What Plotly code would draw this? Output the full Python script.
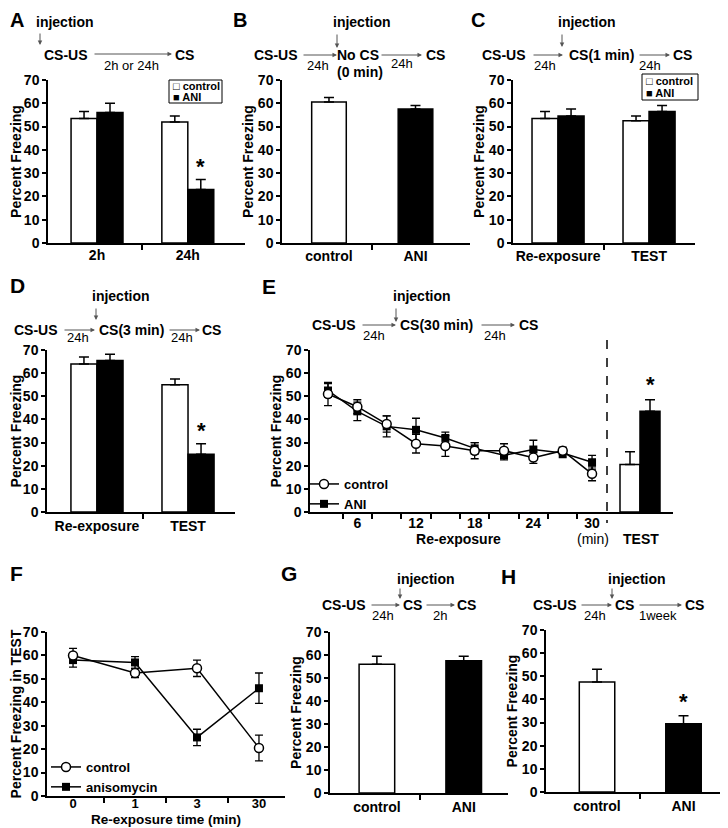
import plotly.graph_objects as go

# The page body adds an 8 px margin, so the figure is drawn 8 px in from the
# window's corner; positions below are given in window pixels and converted.
OX, OY = 8, 8
W, H = 720, 820
FONT = "Liberation Sans, Arial, Helvetica, sans-serif"


def px(x):
    return (x - OX) / W


def py(y):
    return 1 - (y - OY) / H


# ---------------- data ----------------
a_groups = ["2h", "24h"]
a_control = [53.5, 52.0]
a_control_err = [3.0, 2.5]
a_ani = [56.0, 23.0]
a_ani_err = [4.0, 4.3]

b_groups = ["control", "ANI"]
b_values = [60.5, 57.5]
b_err = [2.0, 1.5]

c_groups = ["Re-exposure", "TEST"]
c_control = [53.5, 52.5]
c_control_err = [3.0, 2.0]
c_ani = [54.5, 56.5]
c_ani_err = [3.0, 2.5]

d_groups = ["Re-exposure", "TEST"]
d_control = [64.0, 55.0]
d_control_err = [3.0, 2.5]
d_ani = [65.5, 25.0]
d_ani_err = [2.7, 4.5]

e_time = [3, 6, 9, 12, 15, 18, 21, 24, 27, 30]
e_tick_labels = [6, 12, 18, 24, 30]
e_control = [51.0, 45.5, 38.0, 29.5, 28.5, 26.5, 26.5, 23.5, 26.5, 16.5]
e_control_err = [5.0, 3.0, 3.5, 4.0, 4.5, 3.5, 3.0, 2.5, 1.5, 3.0]
e_ani = [52.5, 43.5, 37.0, 35.5, 32.0, 27.5, 24.5, 27.0, 25.5, 21.5]
e_ani_err = [3.0, 4.0, 4.5, 5.0, 2.5, 2.5, 2.0, 4.0, 2.0, 3.0]
e_test_control = 20.5
e_test_control_err = 5.5
e_test_ani = 43.5
e_test_ani_err = 5.0

f_times = ["0", "1", "3", "30"]
f_control = [60.0, 52.5, 54.5, 20.5]
f_control_err = [3.0, 2.0, 3.5, 5.5]
f_ani = [58.0, 57.0, 25.0, 46.0]
f_ani_err = [3.0, 2.5, 3.5, 6.5]

g_groups = ["control", "ANI"]
g_values = [56.0, 57.5]
g_err = [3.5, 2.0]

h_groups = ["control", "ANI"]
h_values = [47.5, 29.5]
h_err = [5.5, 3.5]

y_ticks = [0, 10, 20, 30, 40, 50, 60, 70]

# ---------------- figure ----------------
fig = go.Figure()


def axn(n, kind):
    return kind if n == 1 else f"{kind}{n}"


def err_up(errs):
    return dict(type="data", array=errs, arrayminus=[0] * len(errs), symmetric=False,
                color="black", thickness=1.5, width=5)


def grouped(n, ctrl, ctrl_err, ani, ani_err, w):
    xs = list(range(len(ctrl)))
    fig.add_trace(go.Bar(x=xs, y=ctrl, width=w, offset=-w,
                         marker=dict(color="white", line=dict(color="black", width=1.5)),
                         error_y=err_up(ctrl_err), xaxis=axn(n, "x"), yaxis=axn(n, "y"),
                         showlegend=False, name="control"))
    fig.add_trace(go.Bar(x=xs, y=ani, width=w, offset=0,
                         marker=dict(color="black", line=dict(color="black", width=1.5)),
                         error_y=err_up(ani_err), xaxis=axn(n, "x"), yaxis=axn(n, "y"),
                         showlegend=False, name="ANI"))


def single(n, vals, errs, w):
    xs = list(range(len(vals)))
    fig.add_trace(go.Bar(x=xs, y=vals, width=w, offset=-w / 2,
                         marker=dict(color=["white", "black"], line=dict(color="black", width=1.5)),
                         error_y=err_up(errs), xaxis=axn(n, "x"), yaxis=axn(n, "y"),
                         showlegend=False))


grouped(1, a_control, a_control_err, a_ani, a_ani_err, 0.286)
single(2, b_values, b_err, 0.40)
grouped(3, c_control, c_control_err, c_ani, c_ani_err, 0.286)
grouped(4, d_control, d_control_err, d_ani, d_ani_err, 0.286)
single(8, g_values, g_err, 0.41)
single(9, h_values, h_err, 0.41)

# E line panel
fig.add_trace(go.Scatter(x=e_time, y=e_ani, mode="lines+markers", name="ANI",
                         line=dict(color="black", width=1.5),
                         marker=dict(symbol="square", size=8, color="black"),
                         error_y=dict(type="data", array=e_ani_err, color="black", thickness=1.3, width=4),
                         xaxis="x5", yaxis="y5", legend="legend3", legendrank=2))
fig.add_trace(go.Scatter(x=e_time, y=e_control, mode="lines+markers", name="control",
                         line=dict(color="black", width=1.5),
                         marker=dict(symbol="circle", size=9, color="white", line=dict(color="black", width=1.5)),
                         error_y=dict(type="data", array=e_control_err, color="black", thickness=1.3, width=4),
                         xaxis="x5", yaxis="y5", legend="legend3", legendrank=1))
# E TEST bars
fig.add_trace(go.Bar(x=[0], y=[e_test_control], width=1, offset=-1,
                     marker=dict(color="white", line=dict(color="black", width=1.5)),
                     error_y=err_up([e_test_control_err]), xaxis="x6", yaxis="y5", showlegend=False))
fig.add_trace(go.Bar(x=[0], y=[e_test_ani], width=1, offset=0,
                     marker=dict(color="black", line=dict(color="black", width=1.5)),
                     error_y=err_up([e_test_ani_err]), xaxis="x6", yaxis="y5", showlegend=False))

# F line panel
f_x = list(range(len(f_times)))
fig.add_trace(go.Scatter(x=f_x, y=f_ani, mode="lines+markers", name="anisomycin",
                         line=dict(color="black", width=1.5),
                         marker=dict(symbol="square", size=8, color="black"),
                         error_y=dict(type="data", array=f_ani_err, color="black", thickness=1.3, width=4),
                         xaxis="x7", yaxis="y7", legend="legend4", legendrank=2))
fig.add_trace(go.Scatter(x=f_x, y=f_control, mode="lines+markers", name="control",
                         line=dict(color="black", width=1.5),
                         marker=dict(symbol="circle", size=9, color="white", line=dict(color="black", width=1.5)),
                         error_y=dict(type="data", array=f_control_err, color="black", thickness=1.3, width=4),
                         xaxis="x7", yaxis="y7", legend="legend4", legendrank=1))

# ---------------- axes ----------------
tickfont = dict(family=FONT, size=14, color="black", weight="bold")


def xcfg(xd, rng, tickvals, ticktext, minor_vals, anchor, title=None, standoff=2, lab_off=0, tsize=14):
    d = dict(domain=[px(xd[0]), px(xd[1])], range=list(rng), anchor=anchor, automargin=False,
             showline=True, linecolor="black", linewidth=1.5, ticks="",
             tickmode="array", tickvals=tickvals, ticktext=ticktext,
             tickfont=dict(tickfont, size=tsize),
             ticklabelstandoff=lab_off,
             showgrid=False, zeroline=False, fixedrange=True,
             minor=dict(tickmode="array", tickvals=minor_vals, ticks="outside", ticklen=5,
                        tickcolor="black", tickwidth=1.5, showgrid=False))
    if title:
        d["title"] = dict(text=title, font=tickfont, standoff=standoff)
    return d


def ycfg(yd, anchor, title="Percent Freezing"):
    return dict(domain=[py(yd[1]), py(yd[0])], range=[0, 70], anchor=anchor, automargin=False,
                showline=True, linecolor="black", linewidth=1.5, ticks="outside", ticklen=4,
                tickwidth=1.5, tickcolor="black", tickvals=y_ticks, tickfont=tickfont,
                showgrid=False, zeroline=False, fixedrange=True,
                title=dict(text=title, font=tickfont, standoff=1))


layout = {}
layout["xaxis"] = xcfg((48, 245), (-0.54, 1.63), [0, 1], a_groups, [0.5], "y", lab_off=-2)
layout["yaxis"] = ycfg((80, 243), "x")
layout["xaxis2"] = xcfg((282, 470), (-0.543, 1.63), [0, 1], b_groups, [0.5], "y2", lab_off=-1)
layout["yaxis2"] = ycfg((80, 243), "x2")
layout["xaxis3"] = xcfg((513, 695), (-0.495, 1.505), [0, 1], c_groups, [0.5], "y3", lab_off=-1)
layout["yaxis3"] = ycfg((80, 243), "x3")
layout["xaxis4"] = xcfg((47, 235), (-0.549, 1.516), [0, 1], d_groups, [0.5], "y4")
layout["yaxis4"] = ycfg((350, 512), "x4")
e_minor = [t + 1.5 for t in e_time[:-1]]
layout["xaxis5"] = xcfg((310, 607), (1.16, 31.53), e_tick_labels, [str(v) for v in e_tick_labels],
                        e_minor, "y5", title="Re-exposure", lab_off=-3)
layout["yaxis5"] = ycfg((350, 512), "x5")
layout["xaxis6"] = dict(domain=[px(607), px(673)], range=[-1.65, 1.65], anchor="y5", automargin=False,
                        showline=True, linecolor="black", linewidth=1.5, ticks="",
                        showticklabels=False, showgrid=False, zeroline=False, fixedrange=True)
layout["xaxis7"] = xcfg((47, 285), (-0.42, 3.42), f_x, f_times, [0.5, 1.5, 2.5], "y7",
                        lab_off=-5, tsize=13)
layout["yaxis7"] = ycfg((632, 796), "x7", title="Percent Freezing in TEST")
layout["xaxis8"] = xcfg((330, 508), (-0.54, 1.51), [0, 1], g_groups, [0.5], "y8")
layout["yaxis8"] = ycfg((632, 793), "x8")
layout["xaxis9"] = xcfg((546, 722), (-0.59, 1.445), [0, 1], h_groups, [0.5], "y9")
layout["yaxis9"] = ycfg((630, 792), "x9")

legfont = dict(family=FONT, size=13, color="black", weight="bold")
layout["legend3"] = dict(x=px(304), y=py(494), xanchor="left", yanchor="middle",
                         bgcolor="rgba(0,0,0,0)", font=legfont, tracegroupgap=0, itemwidth=30)
layout["legend4"] = dict(x=px(46), y=py(777), xanchor="left", yanchor="middle",
                         bgcolor="rgba(0,0,0,0)", font=legfont, tracegroupgap=0, itemwidth=30)

fig.update_layout(width=W, height=H, margin=dict(l=0, r=0, t=0, b=0, autoexpand=False),
                  paper_bgcolor="white", plot_bgcolor="white", barmode="overlay",
                  font=dict(family=FONT, color="black"), **layout)

# ---------------- annotations ----------------
ann = []


def text(t, x, y, size=14, bold=True, xanchor="center", yanchor="middle"):
    ann.append(dict(text=t, x=px(x), y=py(y), xref="paper", yref="paper", showarrow=False,
                    xanchor=xanchor, yanchor=yanchor, borderpad=0,
                    font=dict(family=FONT, size=size, color="black",
                              weight="bold" if bold else "normal")))


def arrow(x0, y0, x1, y1):
    ann.append(dict(text="", x=px(x1), y=py(y1), ax=x0 - x1, ay=y0 - y1, xref="paper", yref="paper",
                    axref="pixel", ayref="pixel", showarrow=True, arrowhead=2, arrowsize=0.9,
                    arrowwidth=1, arrowcolor="#555555"))


# panel letters (top row pinned to the top edge of the visible area)
text("A", 9, 8, size=20, xanchor="left", yanchor="top")
text("B", 240, 8, size=20, yanchor="top")
text("C", 478, 8, size=20, yanchor="top")
for letter, x, y in [("D", 9, 285), ("F", 9, 573)]:
    text(letter, x, y, size=21, xanchor="left")
for letter, x, y in [("E", 269, 286), ("G", 289, 573), ("H", 508, 576)]:
    text(letter, x, y, size=21)

# A schematic
text("injection", 65, 22)
arrow(40, 32, 40, 45)
text("CS-US", 66, 55)
arrow(93, 54, 172, 54)
text("CS", 184, 55)
text("2h or 24h", 131, 65, size=13, bold=False)
# B schematic
text("injection", 362, 22)
arrow(337, 33, 337, 48)
text("CS-US", 276, 55)
arrow(302, 55, 337, 55)
text("No CS", 358, 55)
arrow(380, 55, 422, 55)
text("CS", 435, 55)
text("24h", 318, 65, size=13, bold=False)
text("(0 min)", 360, 72)
text("24h", 402, 63, size=13, bold=False)
# C schematic
text("injection", 587, 22)
arrow(562, 33, 562, 47)
text("CS-US", 504, 55)
arrow(532, 55, 563, 55)
text("CS(1 min)", 601, 55)
arrow(638, 55, 670, 55)
text("CS", 682, 55)
text("24h", 545, 65, size=13, bold=False)
text("24h", 650, 65, size=13, bold=False)
# D schematic
text("injection", 121, 296)
arrow(96, 307, 96, 320)
text("CS-US", 36, 330)
arrow(63, 330, 95, 330)
text("CS(3 min)", 131, 330)
arrow(168, 330, 200, 330)
text("CS", 211, 330)
text("24h", 78, 337, size=13, bold=False)
text("24h", 182, 337, size=13, bold=False)
# E schematic
text("injection", 422, 296)
arrow(396, 307, 396, 322)
text("CS-US", 334, 325)
arrow(361, 325, 396, 325)
text("CS(30 min)", 436, 325)
arrow(480, 325, 515, 325)
text("CS", 528, 325)
text("24h", 374, 335, size=13, bold=False)
text("24h", 495, 335, size=13, bold=False)
# G schematic
text("injection", 426, 579)
arrow(400, 587, 400, 599)
text("CS-US", 344, 605)
arrow(370, 605, 400, 605)
text("CS", 412, 605)
arrow(425, 605, 455, 605)
text("CS", 467, 605)
text("24h", 383, 615, size=13, bold=False)
text("2h", 440, 615, size=13, bold=False)
# H schematic
text("injection", 637, 579)
arrow(612, 587, 612, 599)
text("CS-US", 555, 605)
arrow(580, 605, 612, 605)
text("CS", 624, 605)
arrow(638, 605, 682, 605)
text("CS", 694, 605)
text("24h", 595, 615, size=13, bold=False)
text("1week", 658, 615, size=13, bold=False)

# E extra labels
text("(min)", 593, 539, size=14, bold=False)
text("TEST", 641, 539)
# F x-axis title
text("Re-exposure time (min)", 166, 819.5, size=13.5)

# A and C legend boxes (two lines each inside a thin frame)
for (x0, y0, x1, y1) in [(169, 80, 222, 103), (642, 74, 698, 100)]:
    fig.add_shape(type="rect", xref="paper", yref="paper", x0=px(x0), x1=px(x1), y0=py(y1), y1=py(y0),
                  line=dict(color="black", width=1), fillcolor="white", layer="above")
    hgt = y1 - y0
    for i, lab in enumerate(["□ control", "■ ANI"]):
        ann.append(dict(text=lab, x=px(x0 + 2), y=py(y0 + hgt * (0.27 + 0.48 * i)), xref="paper",
                        yref="paper", showarrow=False, xanchor="left", yanchor="middle",
                        font=dict(family=FONT, size=11, color="black", weight="bold")))


# asterisks (data coordinates)
def star(xa, ya, x, y):
    ann.append(dict(text="*", x=x, y=y, xref=xa, yref=ya, showarrow=False,
                    font=dict(family=FONT, size=22, color="black", weight="bold")))


star("x", "y", 1 + 0.143, 33)
star("x4", "y4", 1 + 0.143, 35)
star("x6", "y5", 0.5, 55)
star("x9", "y9", 1, 39)

fig.update_layout(annotations=ann)

# dashed separator in E
fig.add_shape(type="line", xref="paper", yref="paper", x0=px(607), x1=px(607), y0=py(340), y1=py(523),
              line=dict(color="black", width=1.5, dash="dash"))

fig.write_html("out.html")
